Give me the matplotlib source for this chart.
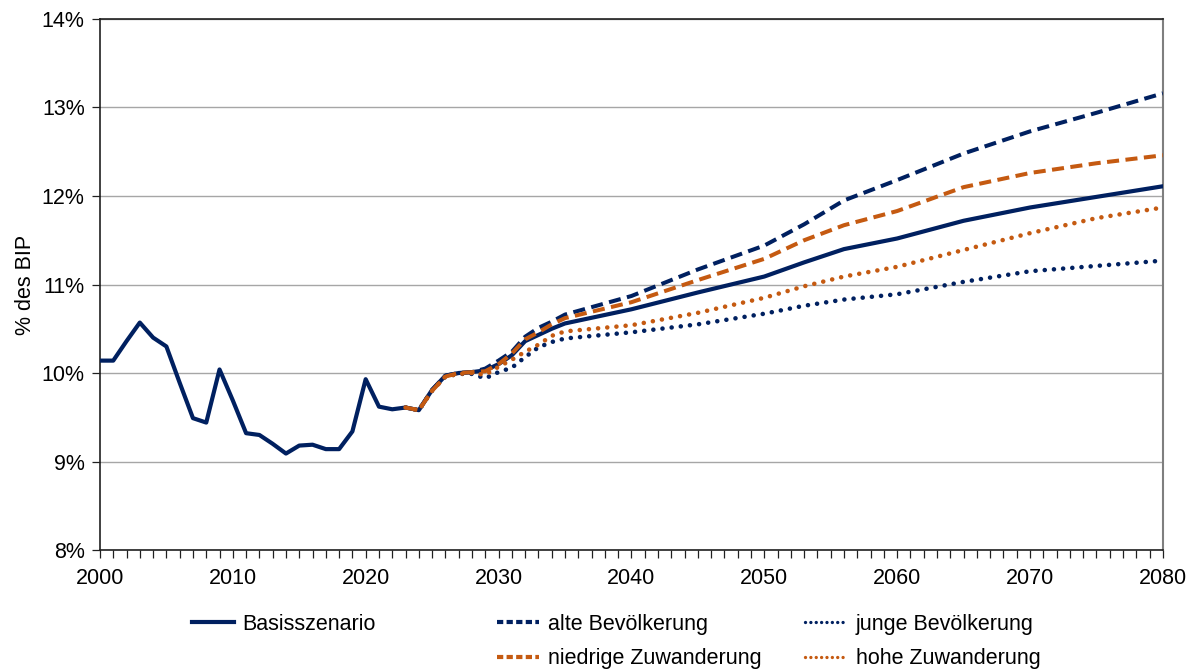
import matplotlib
matplotlib.use('Agg')
from matplotlib import pyplot as plt
from matplotlib.lines import Line2D
from matplotlib.ticker import MultipleLocator, FuncFormatter

# historical values (% of GDP)
hist_years = list(range(2000, 2023))
hist_values = [10.14, 10.14, 10.36, 10.57, 10.40, 10.30, 9.89, 9.49, 9.44, 10.04,
               9.69, 9.32, 9.30, 9.20, 9.09, 9.18, 9.19, 9.14, 9.14, 9.34,
               9.93, 9.62, 9.59]

# projections from 2023 on
proj_years = [2023, 2024, 2025, 2026, 2027, 2028, 2029, 2030, 2031, 2032, 2033, 2034,
              2035, 2040, 2045, 2050, 2053, 2056, 2060, 2065, 2070, 2075, 2080]
basis = [9.61, 9.58, 9.81, 9.97, 10.00, 10.01, 10.03, 10.10, 10.20, 10.36, 10.43, 10.50,
         10.56, 10.72, 10.91, 11.09, 11.25, 11.40, 11.52, 11.72, 11.87, 11.99, 12.11]
alte = [9.61, 9.58, 9.81, 9.97, 10.00, 10.01, 10.05, 10.14, 10.24, 10.41, 10.51, 10.58,
        10.66, 10.87, 11.17, 11.44, 11.68, 11.95, 12.18, 12.48, 12.73, 12.94, 13.16]
junge = [9.61, 9.58, 9.80, 9.96, 9.99, 9.99, 9.94, 10.01, 10.06, 10.18, 10.29, 10.35,
         10.39, 10.46, 10.55, 10.67, 10.76, 10.83, 10.89, 11.03, 11.15, 11.21, 11.27]
niedrig = [9.61, 9.58, 9.80, 9.96, 10.00, 10.01, 10.02, 10.10, 10.22, 10.38, 10.46, 10.55,
           10.62, 10.80, 11.05, 11.29, 11.50, 11.67, 11.83, 12.10, 12.26, 12.37, 12.46]
hoch = [9.61, 9.58, 9.80, 9.96, 9.99, 10.00, 9.98, 10.07, 10.15, 10.24, 10.32, 10.42,
        10.47, 10.54, 10.68, 10.85, 10.98, 11.09, 11.20, 11.39, 11.58, 11.75, 11.87]

navy = '#002060'
orange = '#C55A11'
dashed = (0, (3.0, 1.6))
dotted = (0, (0.01, 2.0))

plt.rcParams['font.family'] = ['Liberation Sans', 'DejaVu Sans']
plt.rcParams['font.size'] = 15.5

fig = plt.figure(figsize=(11.97, 6.71), dpi=100)
ax = fig.add_axes([0.0835, 0.1803, 0.888, 0.7914])

ax.plot(hist_years + proj_years, hist_values + basis, color=navy, lw=3.0,
        solid_joinstyle='round', zorder=5)
ax.plot(proj_years, alte, color=navy, lw=2.9, linestyle=dashed, zorder=4)
ax.plot(proj_years, junge, color=navy, lw=3.3, linestyle=dotted,
        dash_capstyle='round', zorder=3)
ax.plot(proj_years, niedrig, color=orange, lw=2.9, linestyle=dashed, zorder=6)
ax.plot(proj_years, hoch, color=orange, lw=3.3, linestyle=dotted,
        dash_capstyle='round', zorder=6)

ax.set_xlim(2000, 2080)
ax.set_ylim(8, 14)
ax.xaxis.set_major_locator(MultipleLocator(10))
ax.xaxis.set_minor_locator(MultipleLocator(1))
ax.yaxis.set_major_locator(MultipleLocator(1))
ax.yaxis.set_major_formatter(FuncFormatter(lambda v, p: '%d%%' % v))
ax.tick_params(axis='x', which='both', direction='out', length=6, width=0.9,
               color='#202020', pad=7)
ax.tick_params(axis='y', direction='out', length=6, width=0.9, color='#202020', pad=5)
ax.grid(axis='y', color='#a6a6a6', lw=1.0)
ax.set_axisbelow(True)
for side in ['left', 'bottom', 'top']:
    ax.spines[side].set_color('#202020')
    ax.spines[side].set_linewidth(1.2)
ax.spines['right'].set_color('#7f7f7f')
ax.spines['right'].set_linewidth(1.5)
ax.set_ylabel('% des BIP', labelpad=4)

# legend split into three columns
h_basis = Line2D([], [], color=navy, lw=3.0)
h_alte = Line2D([], [], color=navy, lw=3.0, linestyle=(0, (1.5, 0.8)))
h_junge = Line2D([], [], color=navy, lw=2.4, linestyle=(0, (0.01, 1.6)), dash_capstyle='round')
h_niedrig = Line2D([], [], color=orange, lw=3.0, linestyle=(0, (1.5, 0.8)))
h_hoch = Line2D([], [], color=orange, lw=2.4, linestyle=(0, (0.01, 1.6)), dash_capstyle='round')

kw = dict(loc='upper left', frameon=False, borderpad=0, borderaxespad=0,
          handlelength=1.95, handletextpad=0.4, labelspacing=0.62, fontsize=15.5)
top = 1 - 614 / 671
leg1 = fig.legend([h_basis], ['Basisszenario'], bbox_to_anchor=(192 / 1197, top), **kw)
leg2 = fig.legend([h_alte, h_niedrig], ['alte Bevölkerung', 'niedrige Zuwanderung'],
                  bbox_to_anchor=(497 / 1197, top), **kw)
leg3 = fig.legend([h_junge, h_hoch], ['junge Bevölkerung', 'hohe Zuwanderung'],
                  bbox_to_anchor=(805 / 1197, top), **kw)

plt.savefig('out.png', dpi=100)
